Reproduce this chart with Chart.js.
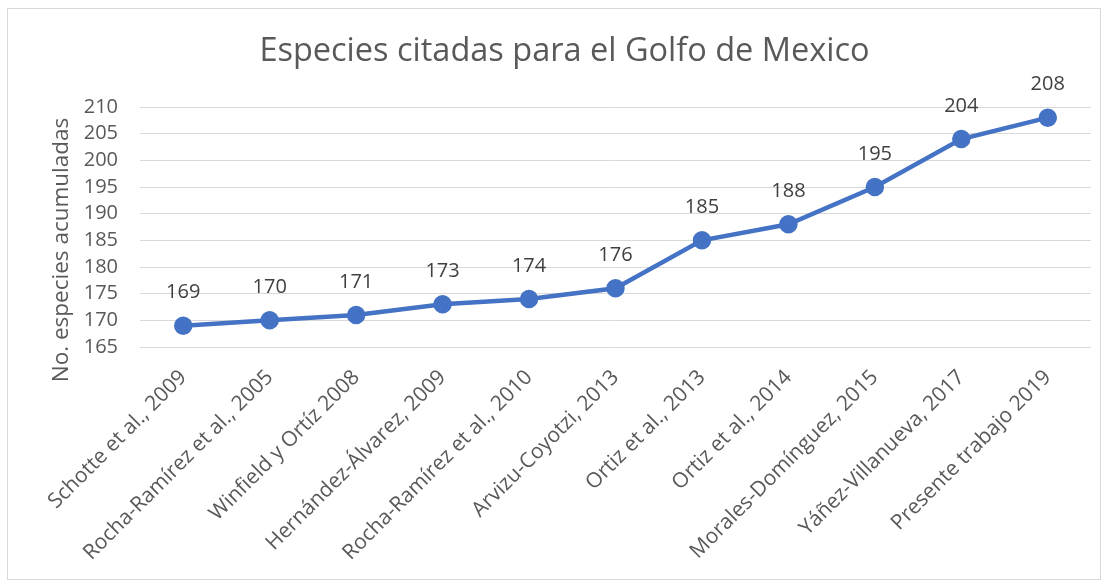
<!DOCTYPE html>
<html>
<head>
<meta charset="utf-8">
<script src="https://cdn.jsdelivr.net/npm/chart.js@4"></script>
<style>
  html, body { margin: 0; padding: 0; background: #fff; }
  #wrap { position: relative; width: 1109px; height: 580px; }
  #frame { position: absolute; left: 7px; top: 8px; width: 1094px; height: 572px;
           border: 1px solid #d9d9d9; box-sizing: border-box; pointer-events: none; }
</style>
</head>
<body>
<div id="wrap">
  <canvas id="especiesChart" width="1109" height="580"></canvas>
  <div id="frame"></div>
</div>
<script>
const fuentes = ['Schotte et al., 2009', 'Rocha-Ramírez et al., 2005', 'Winfield y Ortíz 2008',
    'Hernández-Álvarez, 2009', 'Rocha-Ramírez et al., 2010', 'Arvizu-Coyotzi, 2013',
    'Ortiz et al., 2013', 'Ortiz et al., 2014', 'Morales-Domínguez, 2015',
    'Yáñez-Villanueva, 2017', 'Presente trabajo 2019'];
const especies = [169, 170, 171, 173, 174, 176, 185, 188, 195, 204, 208];
const yMin = 165, yMax = 210, yStep = 5;

const FONT = '"Open Sans", "Noto Sans", sans-serif';

// value labels above each point + rotated y title
const etiquetas = {
    id: 'etiquetas',
    afterDatasetsDraw(chart) {
        const ctx = chart.ctx;
        const meta = chart.getDatasetMeta(0);
        ctx.save();
        ctx.font = '20px ' + FONT;
        ctx.fillStyle = '#404040';
        ctx.textAlign = 'center';
        ctx.textBaseline = 'middle';
        meta.data.forEach((pt, i) => {
            ctx.fillText(especies[i], pt.x, pt.y - 33);
        });
        ctx.restore();

        ctx.save();
        ctx.translate(62, 250);
        ctx.rotate(-Math.PI / 2);
        ctx.font = '22.5px ' + FONT;
        ctx.fillStyle = '#595959';
        ctx.textAlign = 'center';
        ctx.textBaseline = 'middle';
        ctx.fillText('No. especies acumuladas', 0, 0);
        ctx.restore();
    }
};

new Chart(document.getElementById('especiesChart'), {
    type: 'line',
    data: {
        labels: fuentes,
        datasets: [{
            data: especies,
            borderColor: '#4472c4',
            backgroundColor: '#4472c4',
            borderWidth: 4.5,
            pointRadius: 7,
            pointHoverRadius: 7,
            tension: 0
        }]
    },
    options: {
        responsive: false,
        animation: false,
        layout: { padding: { top: 10, left: 38, right: 18, bottom: 8 } },
        plugins: {
            legend: { display: false },
            tooltip: { enabled: false },
            title: {
                display: true,
                text: 'Especies citadas para el Golfo de Mexico',
                color: '#595959',
                font: { family: FONT, size: 32.5, weight: 'normal' },
                padding: { top: 22, bottom: 36 }
            }
        },
        scales: {
            x: {
                offset: true,
                grid: { display: false, drawTicks: false },
                border: { display: false },
                ticks: {
                    color: '#595959',
                    font: { family: FONT, size: 21 },
                    maxRotation: 45,
                    minRotation: 45,
                    padding: 18,
                    autoSkip: false
                },
                afterFit(scale) { scale.height = 225; }
            },
            y: {
                min: yMin,
                max: yMax,
                grid: { color: '#d9d9d9', lineWidth: 1, drawTicks: false },
                border: { display: false },
                ticks: {
                    stepSize: yStep,
                    autoSkip: false,
                    color: '#595959',
                    font: { family: FONT, size: 20 },
                    padding: 22
                },
                afterFit(scale) { scale.width = 102; }
            }
        }
    },
    plugins: [etiquetas]
});
</script>
</body>
</html>
